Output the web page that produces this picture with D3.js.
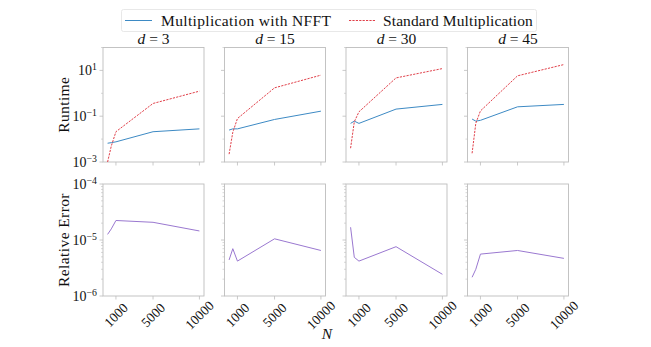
<!DOCTYPE html>
<html>
<head>
<meta charset="utf-8">
<script src="https://d3js.org/d3.v7.min.js"></script>
<style>
  body { margin: 0; background: #fff; }
  svg text { font-family: "Liberation Serif", "DejaVu Serif", serif; fill: #111; }
</style>
</head>
<body>
<div id="chart"></div>
<script>
// problem sizes N and dimensions d
var nValues = [100, 500, 1000, 5000, 10000];
var dims = [3, 15, 30, 45];
var xTicks = [1000, 5000, 10000];

// runtime in seconds, one row per dimension
var nfftRuntime = [
  [0.0066, 0.0070, 0.0076, 0.021, 0.028],
  [0.0248, 0.028, 0.028, 0.072, 0.166],
  [0.0486, 0.061, 0.0486, 0.204, 0.327],
  [0.075, 0.061, 0.066, 0.257, 0.327]
];
var standardRuntime = [
  [0.0010, 0.005, 0.021, 0.36, 1.24],
  [0.0022, 0.020, 0.079, 1.73, 6.2],
  [0.0040, 0.057, 0.155, 4.7, 12],
  [0.0024, 0.049, 0.17, 5.8, 18]
];
// relative error of the NFFT product
var relError = [
  [1.26e-5, 1.58e-5, 2.23e-5, 2.07e-5, 1.45e-5],
  [4.4e-6, 7.0e-6, 4.2e-6, 1.05e-5, 6.5e-6],
  [1.69e-5, 4.9e-6, 4.2e-6, 7.6e-6, 2.44e-6],
  [2.16e-6, 3.0e-6, 5.6e-6, 6.5e-6, 4.7e-6]
];
var runtimeTicks = [-3, -1, 1];
var errorTicks = [-6, -5, -4];

var width = 651, height = 347;
var panelW = 101, gapX = 20.5, left0 = 103;
var rowTop = [47.5, 184], rowH = [114.5, 112];

var svg = d3.select("#chart").append("svg")
  .attr("width", width).attr("height", height);

var spine = "#bdbdbd";
var blue = "#3d8ac4", red = "#e0404a", purple = "#9a78d0";

var pad = 0.05 * (nValues[nValues.length - 1] - nValues[0]);
var x = d3.scaleLinear()
  .domain([nValues[0] - pad, nValues[nValues.length - 1] + pad])
  .range([0, panelW]);

var yRun = d3.scaleLog().domain([1e-3, 1e2]).range([rowH[0], 0]);
var yErr = d3.scaleLog().domain([1e-6, 1e-4]).range([rowH[1], 0]);

function powLabel(sel, exp, size) {
  sel.append("tspan").text("10");
  sel.append("tspan").attr("dy", -5.5).attr("font-size", size * 0.7)
    .text(exp < 0 ? "\u2212" + (-exp) : exp);
}

function drawPanel(g, y, ticks, minor, showLabels, showXLabels) {
  var h = y.range()[0];
  var id = "clip" + Math.random().toString(36).slice(2);
  g.append("clipPath").attr("id", id).append("rect")
    .attr("width", panelW).attr("height", h);

  // left ticks
  minor.forEach(function(v) {
    g.append("line").attr("x1", -2).attr("x2", 0)
      .attr("y1", y(v)).attr("y2", y(v))
      .attr("stroke", spine).attr("stroke-width", 0.6);
  });
  ticks.forEach(function(e) {
    g.append("line").attr("x1", -3.5).attr("x2", 0)
      .attr("y1", y(Math.pow(10, e))).attr("y2", y(Math.pow(10, e)))
      .attr("stroke", spine).attr("stroke-width", 0.8);
    if (showLabels) {
      var t = g.append("text").attr("x", -6).attr("y", y(Math.pow(10, e)) + 5)
        .attr("text-anchor", "end").attr("font-size", 14);
      powLabel(t, e, 14);
    }
  });

  // bottom ticks
  xTicks.forEach(function(v) {
    g.append("line").attr("x1", x(v)).attr("x2", x(v))
      .attr("y1", h).attr("y2", h + 3.5)
      .attr("stroke", spine).attr("stroke-width", 0.8);
    if (showXLabels) {
      var cy = h + 19;
      g.append("text")
        .attr("transform", "translate(" + x(v) + "," + cy + ") rotate(-45)")
        .attr("text-anchor", "middle").attr("dy", "0.35em")
        .attr("font-size", 13.5).text(v);
    }
  });

  g.append("rect").attr("width", panelW).attr("height", h)
    .attr("fill", "none").attr("stroke", spine).attr("stroke-width", 0.9);

  return g.append("g").attr("clip-path", "url(#" + id + ")");
}

var line = function(y) {
  return d3.line().x(function(d, i) { return x(nValues[i]); })
    .y(function(d) { return y(d); });
};

var runMinor = [1e-2, 1, 1e2];
var errMinor = [];
[-6, -5].forEach(function(e) {
  for (var k = 2; k <= 9; k++) errMinor.push(k * Math.pow(10, e));
});

dims.forEach(function(d, i) {
  var px = left0 + i * (panelW + gapX);

  // runtime row
  var g1 = svg.append("g").attr("transform", "translate(" + px + "," + rowTop[0] + ")");
  var c1 = drawPanel(g1, yRun, runtimeTicks, runMinor, i === 0, false);
  c1.append("path").datum(nfftRuntime[i]).attr("d", line(yRun))
    .attr("fill", "none").attr("stroke", blue).attr("stroke-width", 1);
  c1.append("path").datum(standardRuntime[i]).attr("d", line(yRun))
    .attr("fill", "none").attr("stroke", red).attr("stroke-width", 1)
    .attr("stroke-dasharray", "2.2,1.2");

  var title = g1.append("text").attr("x", panelW / 2).attr("y", -4)
    .attr("text-anchor", "middle").attr("font-size", 15.5).attr("xml:space", "preserve");
  title.append("tspan").attr("font-style", "italic").text("d");
  title.append("tspan").text(" = " + d);

  // error row
  var g2 = svg.append("g").attr("transform", "translate(" + px + "," + rowTop[1] + ")");
  var c2 = drawPanel(g2, yErr, errorTicks, errMinor, i === 0, true);
  c2.append("path").datum(relError[i]).attr("d", line(yErr))
    .attr("fill", "none").attr("stroke", purple).attr("stroke-width", 1);
});

// axis titles
svg.append("text").attr("transform", "translate(69," + (rowTop[0] + rowH[0] / 2) + ") rotate(-90)")
  .attr("text-anchor", "middle").attr("font-size", 15.5).attr("letter-spacing", 0.4).text("Runtime");
svg.append("text").attr("transform", "translate(69," + (rowTop[1] + rowH[1] / 2) + ") rotate(-90)")
  .attr("text-anchor", "middle").attr("font-size", 15.5).attr("letter-spacing", 0.4).text("Relative Error");
svg.append("text").attr("x", 327).attr("y", 339).attr("text-anchor", "middle")
  .attr("font-size", 15.5).attr("font-style", "italic").text("N");

// legend
var leg = svg.append("g");
leg.append("rect").attr("x", 121.5).attr("y", 9.5).attr("width", 415).attr("height", 22)
  .attr("rx", 2).attr("fill", "#fff").attr("stroke", "#e2e2e2").attr("stroke-width", 0.8);
leg.append("line").attr("x1", 125).attr("x2", 152).attr("y1", 20.5).attr("y2", 20.5)
  .attr("stroke", blue).attr("stroke-width", 1);
leg.append("text").attr("x", 161).attr("y", 25.5).attr("font-size", 15.5).attr("letter-spacing", 0.35)
  .text("Multiplication with NFFT");
leg.append("line").attr("x1", 349).attr("x2", 375).attr("y1", 20.5).attr("y2", 20.5)
  .attr("stroke", red).attr("stroke-width", 1).attr("stroke-dasharray", "2.2,1.2");
leg.append("text").attr("x", 383).attr("y", 25.5).attr("font-size", 15.5).attr("letter-spacing", 0.1)
  .text("Standard Multiplication");
</script>
</body>
</html>
